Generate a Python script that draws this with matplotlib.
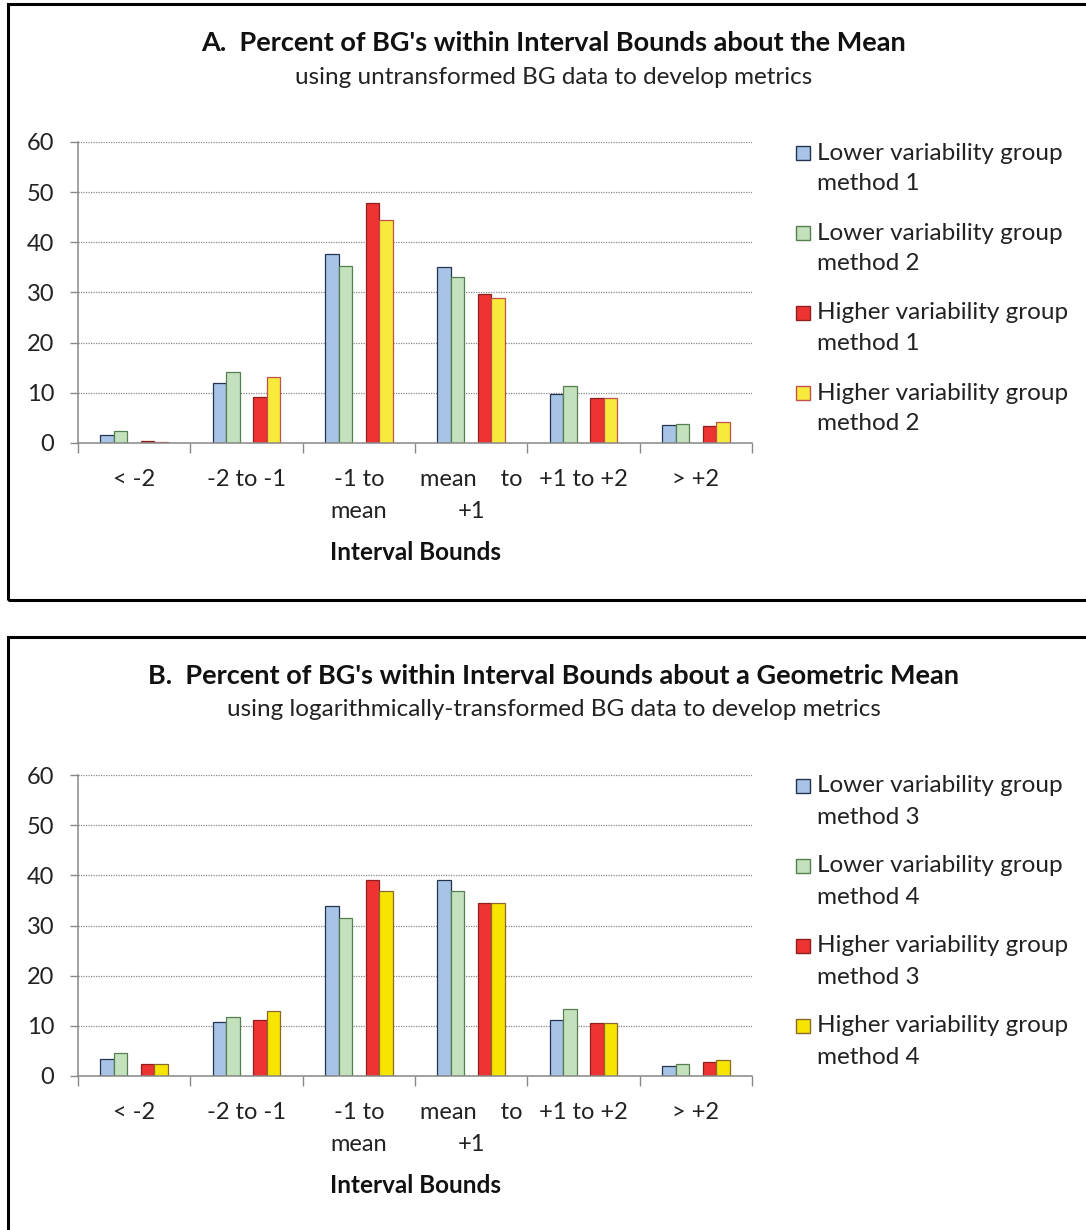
import matplotlib
matplotlib.use("Agg")
import matplotlib.pyplot as plt
from matplotlib.patches import Rectangle
import numpy as np

plt.rcParams['font.family'] = ['Lato', 'DejaVu Sans']

categories = ["< -2", "-2 to -1", "-1 to\nmean", "mean    to\n+1", "+1 to +2", "> +2"]

# Panel A (untransformed)
a_low_m1 = [1.6, 12.0, 37.7, 35.0, 9.7, 3.6]
a_low_m2 = [2.3, 14.1, 35.2, 33.0, 11.3, 3.8]
a_high_m1 = [0.3, 9.2, 47.9, 29.8, 9.0, 3.4]
a_high_m2 = [0.2, 13.1, 44.4, 29.0, 9.0, 4.1]

# Panel B (log-transformed)
b_low_m3 = [3.3, 10.7, 33.9, 39.0, 11.2, 2.0]
b_low_m4 = [4.6, 11.7, 31.5, 36.9, 13.3, 2.3]
b_high_m3 = [2.3, 11.2, 39.0, 34.4, 10.5, 2.8]
b_high_m4 = [2.3, 12.9, 36.9, 34.4, 10.5, 3.1]

a_labels = ["Lower variability group\nmethod 1", "Lower variability group\nmethod 2",
            "Higher variability group\nmethod 1", "Higher variability group\nmethod 2"]
b_labels = ["Lower variability group\nmethod 3", "Lower variability group\nmethod 4",
            "Higher variability group\nmethod 3", "Higher variability group\nmethod 4"]

yticks = [0, 10, 20, 30, 40, 50, 60]

W, H = 1086, 1230
fig = plt.figure(figsize=(W / 100, H / 100), dpi=100)

def fx(x):
    return x / W

def fy(y):
    return 1 - y / H

fills = ['#A7C3E6', '#C3E1BD', '#EE3433', '#F7EA3A']
edges = ['#24344F', '#557F50', '#8E1F1F', '#C0504D']

def panel(top_px, series, labels, title, subtitle, yellow_fill, yellow_edge, box_top, box_bottom):
    # border box
    fig.patches.append(Rectangle((fx(8), fy(box_bottom)), fx(1200), fy(box_top) - fy(box_bottom),
                                 transform=fig.transFigure, fill=False, lw=2.2, ec='black'))
    left, right = 78, 752
    bottom_px = top_px + 301
    ax = fig.add_axes([fx(left), fy(bottom_px), fx(right - left), fy(top_px) - fy(bottom_px)])
    x = np.arange(len(categories))
    bw = 0.12
    offsets = [-0.24, -0.12, 0.12, 0.24]
    fl = fills[:3] + [yellow_fill]
    ed = edges[:3] + [yellow_edge]
    for vals, off, f, e in zip(series, offsets, fl, ed):
        ax.bar(x + off, vals, width=bw, color=f, edgecolor=e, linewidth=0.9, zorder=3)
    ax.set_xlim(-0.5, 5.5)
    ax.set_ylim(0, 60)
    ax.set_yticks(yticks)
    ax.set_yticklabels([str(v) for v in yticks], fontsize=17, color='#222222')
    ax.set_xticks(x)
    ax.set_xticklabels(categories, fontsize=17, color='#222222', linespacing=1.6)
    ax.set_xticks(np.arange(-0.5, 6.0, 1.0), minor=True)
    ax.tick_params(axis='x', which='major', length=0, pad=19)
    ax.tick_params(axis='x', which='minor', length=7, width=1, color='#888888', direction='out')
    ax.tick_params(axis='y', length=6, width=1, color='#888888', pad=11)
    ax.yaxis.grid(True, linestyle=(0, (1, 1)), color='#888888', linewidth=0.9, zorder=0)
    ax.set_axisbelow(True)
    for s in ['top', 'right']:
        ax.spines[s].set_visible(False)
    for s in ['left', 'bottom']:
        ax.spines[s].set_color('#888888')
        ax.spines[s].set_linewidth(1.1)
    ax.spines['bottom'].set_zorder(4)
    ax.set_xlabel("Interval Bounds", fontsize=17.5, fontweight='bold', labelpad=14, color='#111111')
    # titles
    fig.text(fx(554), fy(top_px - 99), title, ha='center', va='center', fontsize=19.5,
             fontweight='bold', color='#111111')
    fig.text(fx(554), fy(top_px - 65), subtitle, ha='center', va='center', fontsize=17.5,
             color='#222222')
    # legend
    for i, lab in enumerate(labels):
        cy = top_px + 11 + 80 * i
        fig.patches.append(Rectangle((fx(796), fy(cy + 7)), fx(14), fy(cy - 7) - fy(cy + 7),
                                     transform=fig.transFigure, fc=fl[i], ec=ed[i], lw=1.0))
        fig.text(fx(817), fy(cy), lab.split('\n')[0], ha='left', va='center', fontsize=17.5, color='#222222')
        fig.text(fx(817), fy(cy + 31), lab.split('\n')[1], ha='left', va='center', fontsize=17.5, color='#222222')
    return ax

panel(142, [a_low_m1, a_low_m2, a_high_m1, a_high_m2], a_labels,
      "A.  Percent of BG's within Interval Bounds about the Mean",
      "using untransformed BG data to develop metrics", '#F7EA3A', '#C0504D', 4, 600)
panel(775, [b_low_m3, b_low_m4, b_high_m3, b_high_m4], b_labels,
      "B.  Percent of BG's within Interval Bounds about a Geometric Mean",
      "using logarithmically-transformed BG data to develop metrics", '#F5E500', '#8A6A2A', 637, 1400)

fig.savefig("out.png", dpi=100, facecolor='white')
